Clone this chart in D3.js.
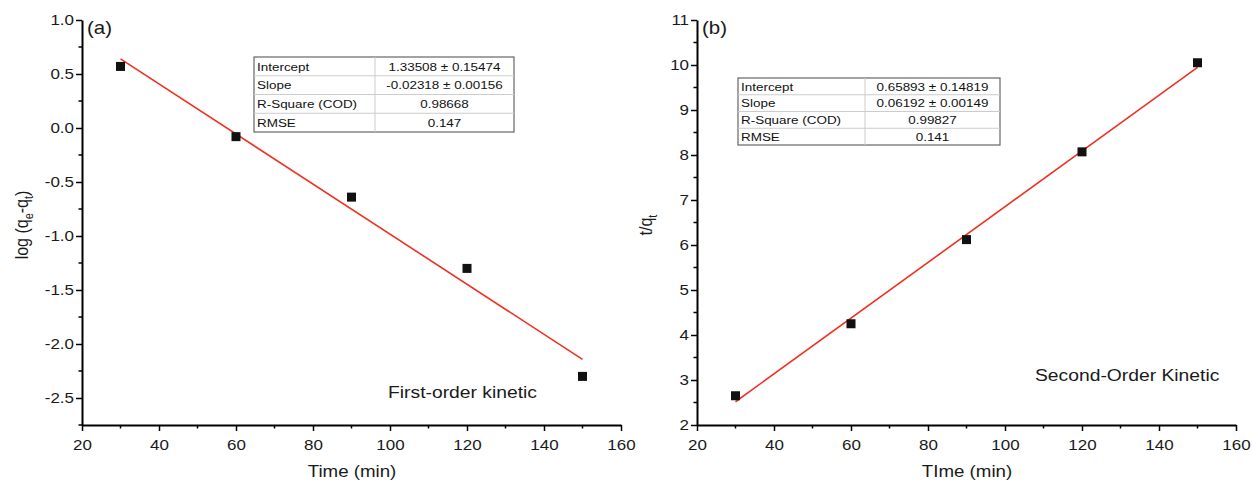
<!DOCTYPE html>
<html><head><meta charset="utf-8">
<script src="https://cdn.jsdelivr.net/npm/d3@7"></script>
<style>body{margin:0;background:#fff}svg{font-family:"Liberation Sans",Arial,sans-serif}</style>
</head><body><svg id="c" width="1252" height="483"></svg>
<script>
const timeA = [30, 60, 90, 120, 150];
const logQ = [0.57, -0.08, -0.64, -1.30, -2.30];
const timeB = [30, 60, 90, 120, 150];
const tq = [2.65, 4.25, 6.12, 8.07, 10.05];
const fitA = {intercept: 1.33508, slope: -0.02318};
const fitB = {intercept: 0.65893, slope: 0.06192};
const xTicks = [20, 40, 60, 80, 100, 120, 140, 160];
const yTicksA = [1.0, 0.5, 0.0, -0.5, -1.0, -1.5, -2.0, -2.5];
const yTicksB = [2, 3, 4, 5, 6, 7, 8, 9, 10, 11];
const tableA = [["Intercept","1.33508 ± 0.15474"],["Slope","-0.02318 ± 0.00156"],["R-Square (COD)","0.98668"],["RMSE","0.147"]];
const tableB = [["Intercept","0.65893 ± 0.14819"],["Slope","0.06192 ± 0.00149"],["R-Square (COD)","0.99827"],["RMSE","0.141"]];

const S = 1.17; // horizontal stretch of the reference text
const svg = d3.select("#c");

function stretch(sel){
  sel.each(function(){
    const t = d3.select(this);
    const x = +t.attr("x") || 0, y = +t.attr("y") || 0;
    t.attr("x",0).attr("y",0).attr("transform",`translate(${x},${y}) scale(${S},1)`);
  });
}

function panel(o){
  const g = svg.append("g");
  const x = d3.scaleLinear().domain([20,160]).range([o.left, o.left+539]);
  const y = d3.scaleLinear().domain(o.ydom).range([425, 20]);
  const minorX = d3.range(30,160,20);
  g.append("g").selectAll("line").data(minorX).join("line")
    .attr("x1",d=>x(d)).attr("x2",d=>x(d)).attr("y1",425).attr("y2",428.5)
    .attr("stroke","#000").attr("stroke-width",1.5);
  g.append("g").selectAll("line").data(o.minorY).join("line")
    .attr("y1",d=>y(d)).attr("y2",d=>y(d)).attr("x1",o.left).attr("x2",o.left-3.5)
    .attr("stroke","#000").attr("stroke-width",1.5);
  const xa = g.append("g").attr("transform","translate(0,425)")
    .call(d3.axisBottom(x).tickValues(xTicks).tickSize(6).tickSizeOuter(0).tickFormat(d3.format("d")));
  const ya = g.append("g").attr("transform",`translate(${o.left},0)`)
    .call(d3.axisLeft(y).tickValues(o.yticks).tickSize(6).tickSizeOuter(0).tickFormat(o.fmt));
  [xa,ya].forEach(a=>{
    a.select(".domain").attr("stroke-width",2);
    a.selectAll(".tick line").attr("stroke-width",1.5);
    a.selectAll("text").attr("font-size",14.5).attr("fill","#1a1a1a").attr("font-family","Liberation Sans, Arial, sans-serif");
  });
  xa.selectAll("text").attr("dy","1.1em");
  ya.selectAll("text").attr("x",-8);
  stretch(xa.selectAll("text")); stretch(ya.selectAll("text"));
  const lx = [30,150];
  g.append("line").attr("x1",x(lx[0])).attr("y1",y(o.fit.intercept+o.fit.slope*lx[0]))
    .attr("x2",x(lx[1])).attr("y2",y(o.fit.intercept+o.fit.slope*lx[1]))
    .attr("stroke","#f03020").attr("stroke-width",1.6);
  g.append("g").selectAll("rect").data(o.xs).join("rect")
    .attr("x",(d,i)=>x(d)-4.5).attr("y",(d,i)=>y(o.ys[i])-4.5).attr("width",9).attr("height",9).attr("fill","#111");
  stretch(g.append("text").attr("x",o.left+5).attr("y",34).attr("font-size",17.5).attr("fill","#1a1a1a").text(o.label));
  stretch(g.append("text").attr("x",o.left+270).attr("y",477).attr("text-anchor","middle").attr("font-size",16).attr("fill","#1a1a1a").text(o.xtitle));
  stretch(g.append("text").attr("x",o.ann[0]).attr("y",o.ann[1]).attr("font-size",16.5).attr("fill","#1a1a1a").text(o.annText));
  const t = o.table, rh = t.h/4;
  const tg = g.append("g");
  tg.append("rect").attr("x",t.x).attr("y",t.y).attr("width",t.w).attr("height",t.h).attr("fill","#fff").attr("stroke","#666").attr("stroke-width",1.2);
  for(let i=1;i<4;i++) tg.append("line").attr("x1",t.x).attr("x2",t.x+t.w).attr("y1",t.y+rh*i).attr("y2",t.y+rh*i).attr("stroke","#ccc");
  tg.append("line").attr("x1",t.c).attr("x2",t.c).attr("y1",t.y).attr("y2",t.y+t.h).attr("stroke","#ccc");
  o.rows.forEach((r,i)=>{
    stretch(tg.append("text").attr("x",t.x+3).attr("y",t.y+rh*i+rh/2+4.3).attr("font-size",11.5).attr("fill","#111").text(r[0]));
    stretch(tg.append("text").attr("x",(t.c+t.x+t.w)/2).attr("y",t.y+rh*i+rh/2+4.3).attr("text-anchor","middle").attr("font-size",11.5).attr("fill","#111").text(r[1]));
  });
  return {x,y,g};
}

panel({left:82, ydom:[-2.75,1.0], yticks:yTicksA, minorY:d3.range(-2.75,1.0,0.5).map(v=>+v.toFixed(2)),
  fmt:d=>d3.format(".1f")(d).replace("−","-"), fit:fitA, xs:timeA, ys:logQ, label:"(a)", xtitle:"Time (min)",
  ann:[388,398], annText:"First-order kinetic", table:{x:254,y:57,w:260,h:75,c:375}, rows:tableA});
panel({left:697, ydom:[2,11], yticks:yTicksB, minorY:d3.range(2.5,11,1),
  fmt:d3.format("d"), fit:fitB, xs:timeB, ys:tq, label:"(b)", xtitle:"TIme (min)",
  ann:[1035,381], annText:"Second-Order Kinetic", table:{x:738,y:78,w:262,h:67,c:865}, rows:tableB});

const ta = svg.append("text").attr("transform",`translate(28,225) rotate(-90) scale(1,${S})`).attr("text-anchor","middle").attr("font-size",16).attr("fill","#1a1a1a");
ta.append("tspan").text("log (q");
ta.append("tspan").attr("font-size",11).attr("dy",4).text("e");
ta.append("tspan").attr("dy",-4).text("-q");
ta.append("tspan").attr("font-size",11).attr("dy",4).text("t");
ta.append("tspan").attr("dy",-4).text(")");
const tb = svg.append("text").attr("transform",`translate(652,225) rotate(-90) scale(1,${S})`).attr("text-anchor","middle").attr("font-size",16).attr("fill","#1a1a1a");
tb.append("tspan").text("t/q");
tb.append("tspan").attr("font-size",11).attr("dy",4).text("t");
</script></body></html>
